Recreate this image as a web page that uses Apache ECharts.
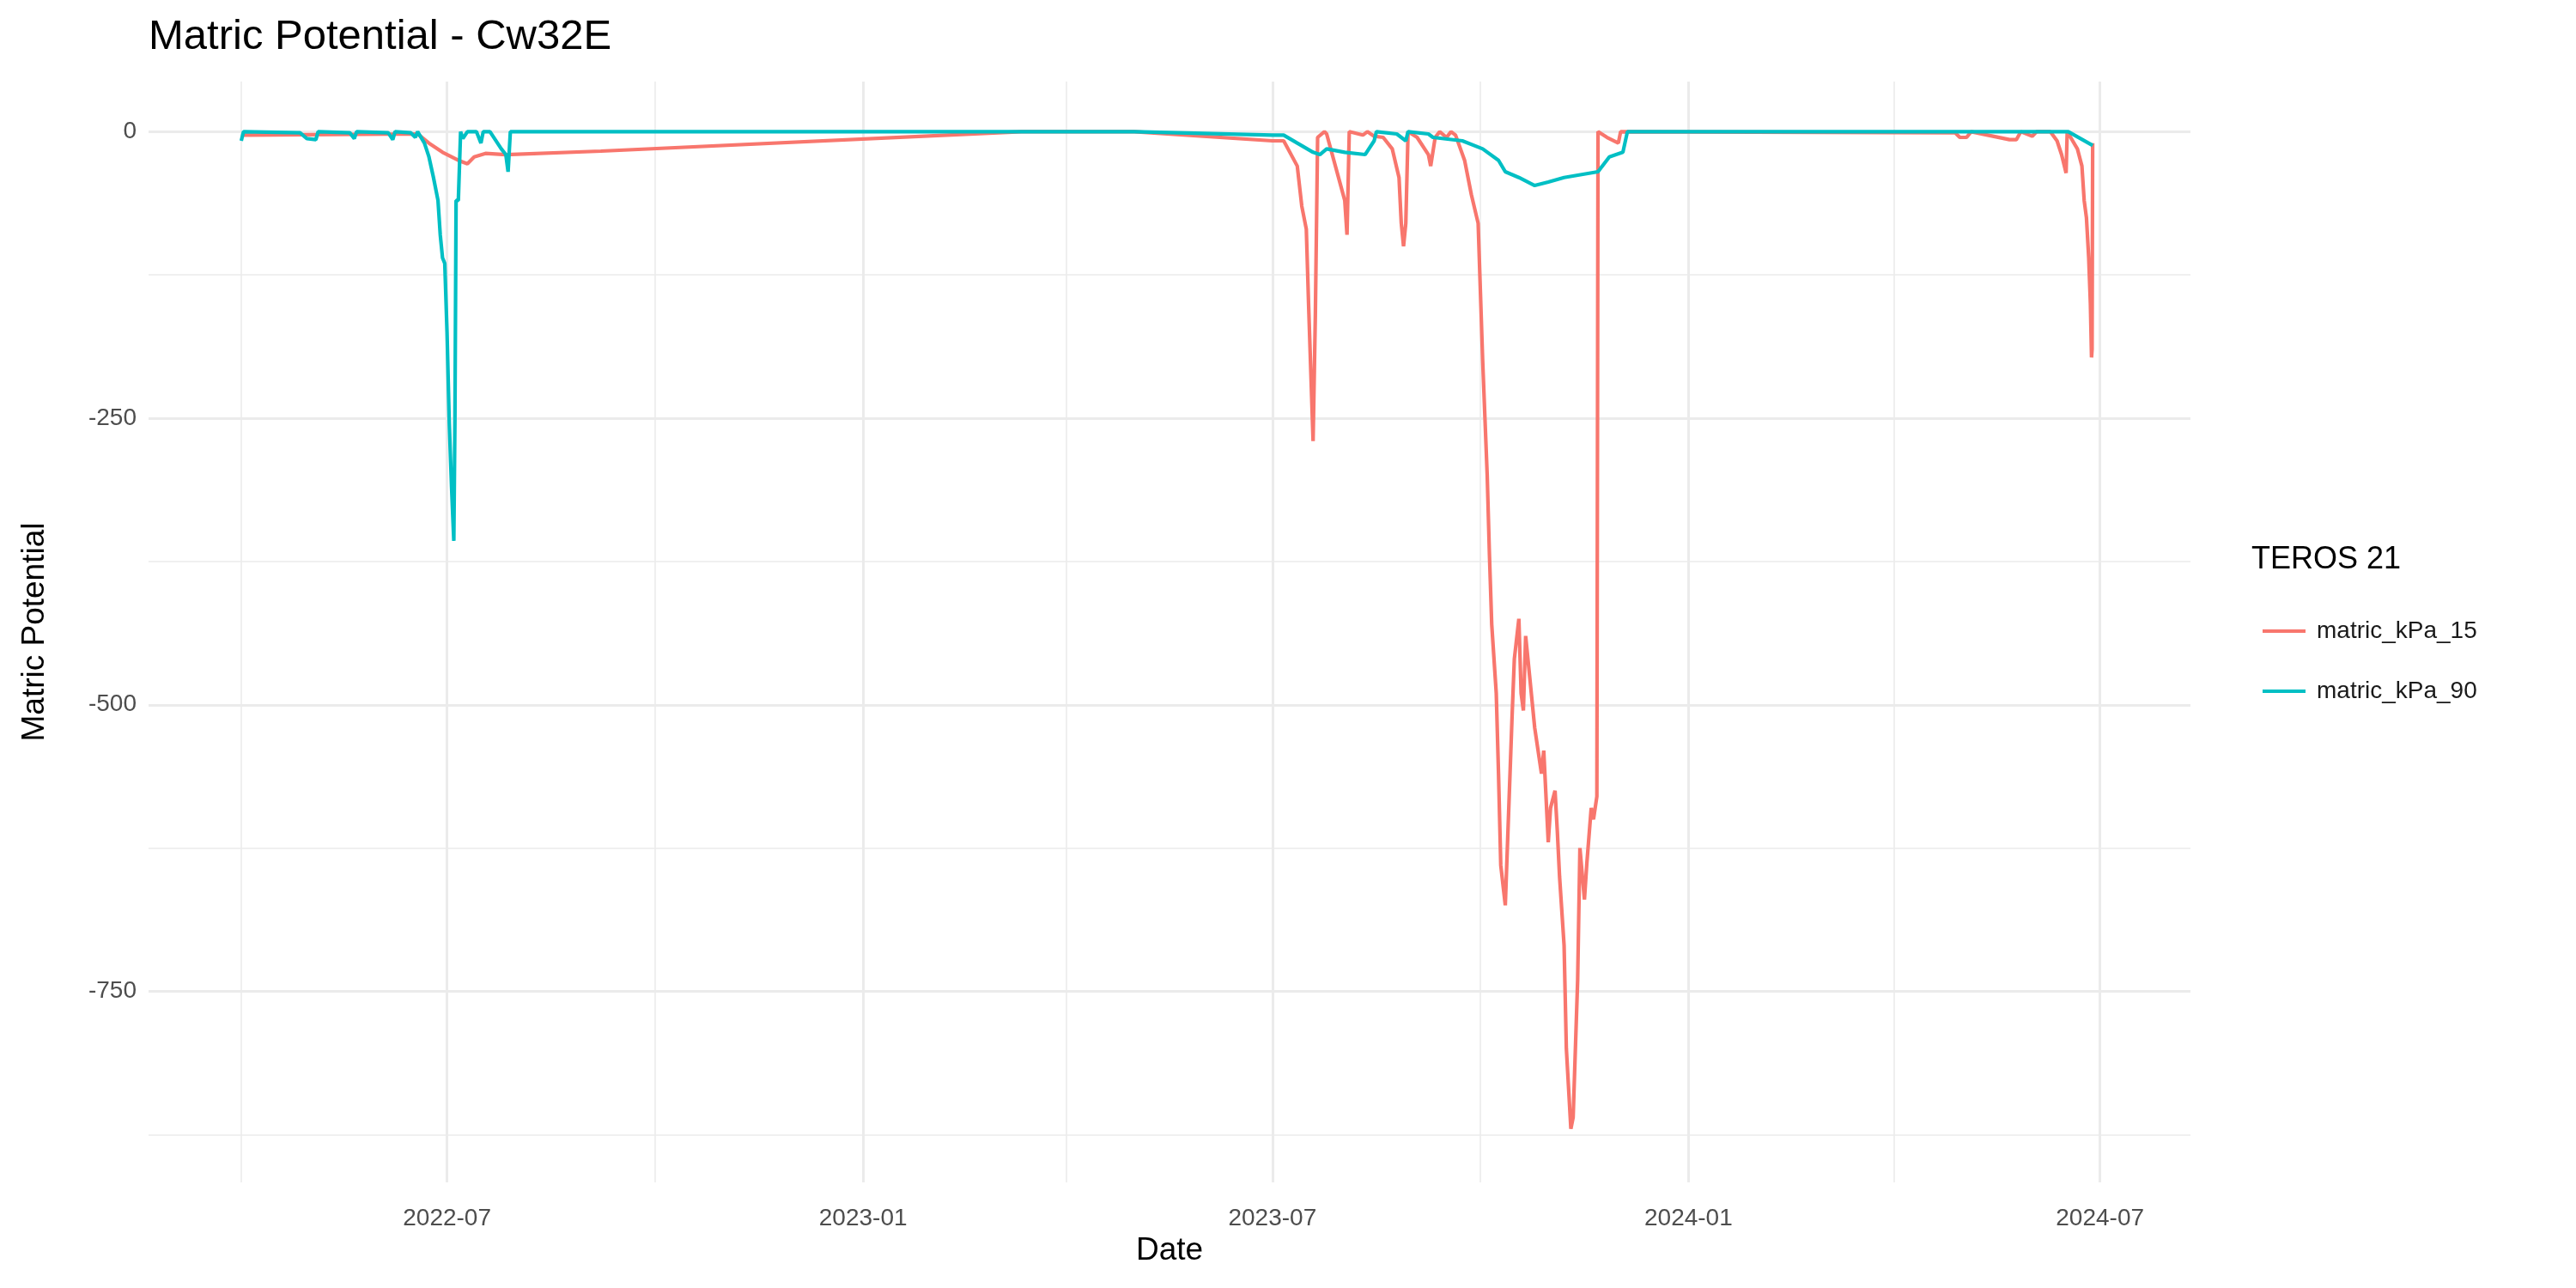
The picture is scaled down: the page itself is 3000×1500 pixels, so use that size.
<!DOCTYPE html>
<html><head><meta charset="utf-8">
<script src="https://cdn.jsdelivr.net/npm/echarts@6/dist/echarts.min.js"></script>
<style>html,body{margin:0;padding:0;background:#fff}#c{width:3000px;height:1500px}</style>
</head><body><div id="c"></div>
<script>
const dates15 = ['2022-04-01','2022-06-18','2022-06-23','2022-06-29','2022-07-06','2022-07-10','2022-07-13','2022-07-18','2022-07-27','2022-09-07',
'2023-03-12','2023-05-01','2023-07-01','2023-07-06','2023-07-12','2023-07-14','2023-07-16','2023-07-17','2023-07-18','2023-07-19','2023-07-20','2023-07-21','2023-07-24',
'2023-07-25','2023-08-02','2023-08-03','2023-08-04','2023-08-10','2023-08-12','2023-08-15','2023-08-19','2023-08-23','2023-08-26','2023-08-27','2023-08-28','2023-08-29','2023-08-30',
'2023-09-03','2023-09-08','2023-09-09','2023-09-11','2023-09-13','2023-09-16','2023-09-18','2023-09-20','2023-09-24','2023-09-27','2023-09-30','2023-10-01','2023-10-02','2023-10-04','2023-10-05','2023-10-06',
'2023-10-08','2023-10-09','2023-10-10','2023-10-12','2023-10-13','2023-10-15','2023-10-16','2023-10-18','2023-10-19','2023-10-20','2023-10-21','2023-10-23','2023-10-25','2023-10-28','2023-10-29',
'2023-10-31','2023-11-01','2023-11-03','2023-11-04','2023-11-05','2023-11-07','2023-11-08','2023-11-10','2023-11-11','2023-11-13','2023-11-14','2023-11-16','2023-11-17','2023-11-19','2023-11-20','2023-11-21 12:00',
'2023-11-22','2023-11-26','2023-12-01','2023-12-02','2024-04-28','2024-04-30','2024-05-03','2024-05-05','2024-05-22','2024-05-25','2024-05-27','2024-06-01','2024-06-03',
'2024-06-09','2024-06-12','2024-06-14','2024-06-16','2024-06-16 12:00','2024-06-18','2024-06-21','2024-06-23','2024-06-24','2024-06-25','2024-06-26','2024-06-26 18:00','2024-06-27 06:00','2024-06-27 12:00','2024-06-27 18:00'];
const vals15 = [-3,-2,-10,-18,-25,-28,-22,-19,-20,-17,
0,0,-8,-8,-30,-65,-85,-150,-210,-270,-160,-5,0,
-2,-60,-90,0,-3,0,-4,-5,-15,-40,-80,-100,-80,0,
-5,-20,-30,-5,0,-5,0,-3,-25,-55,-80,-140,-200,-300,-370,-430,
-490,-560,-640,-675,-620,-510,-460,-425,-490,-505,-440,-480,-520,-560,-540,
-620,-590,-575,-610,-650,-710,-800,-870,-860,-740,-625,-670,-640,-590,-600,-580,
0,-5,-10,0,-1,-5,-5,0,-7,-7,0,-4,0,
0,-8,-20,-36,0,-5,-15,-30,-60,-75,-110,-150,-197,-190,-10];

const dates90 = ['2022-04-01','2022-04-02','2022-04-27','2022-04-30','2022-05-04','2022-05-05','2022-05-19','2022-05-21','2022-05-22','2022-06-05','2022-06-07','2022-06-08',
'2022-06-15','2022-06-17','2022-06-18','2022-06-21','2022-06-23','2022-06-25','2022-06-27','2022-06-28','2022-06-29','2022-06-30','2022-07-01','2022-07-02','2022-07-03',
'2022-07-04','2022-07-04 12:00','2022-07-05','2022-07-06','2022-07-07','2022-07-08','2022-07-10','2022-07-14','2022-07-16','2022-07-17','2022-07-20','2022-07-25','2022-07-27','2022-07-28','2022-07-29',
'2023-05-01','2023-07-01','2023-07-06','2023-07-12','2023-07-19','2023-07-22','2023-07-25','2023-08-02','2023-08-11','2023-08-15','2023-08-16','2023-08-25','2023-08-29','2023-08-30',
'2023-09-08','2023-09-10','2023-09-23','2023-10-02','2023-10-09','2023-10-12','2023-10-18','2023-10-25','2023-10-31','2023-11-07','2023-11-22','2023-11-27','2023-12-03','2023-12-05',
'2024-06-17','2024-06-27 18:00'];
const vals90 = [-8,0,-1,-6,-7,0,-1,-6,0,-1,-7,0,
-1,-5,0,-10,-22,-40,-60,-90,-110,-115,-175,-255,-310,
-357,-250,-60,-60,0,-6,0,0,-10,0,0,-15,-20,-35,0,
0,-3,-3,-10,-18,-20,-15,-18,-20,-8,0,-2,-8,0,
-2,-5,-8,-15,-25,-35,-40,-47,-44,-40,-35,-22,-18,0,
0,-12];

const yMajor = [0,-250,-500,-750];
const yMinor = [-125,-375,-625,-875];
const xMajor = ['2022-07-01','2023-01-01','2023-07-01','2024-01-01','2024-07-01'];
const xMinor = ['2022-04-01','2022-10-01','2023-04-01','2023-10-01','2024-04-01'];
const seriesNames = ['matric_kPa_15','matric_kPa_90'];

const FONT = 'Liberation Sans';
const grid = '#EBEBEB';
const lineData = [];
yMajor.forEach(v => lineData.push({yAxis: v, lineStyle:{color:grid,width:3,type:'solid'},
  label:{show:true,position:'start',formatter:String(v),color:'#4D4D4D',fontSize:28,fontFamily:FONT,distance:14}}));
yMinor.forEach(v => lineData.push({yAxis: v, lineStyle:{color:grid,width:1.6,type:'solid'},label:{show:false}}));
xMajor.forEach(d => lineData.push({xAxis: d, lineStyle:{color:grid,width:3,type:'solid'},
  label:{show:true,position:'start',formatter:d.slice(0,7),color:'#4D4D4D',fontSize:28,fontFamily:FONT,distance:28}}));
xMinor.forEach(d => lineData.push({xAxis: d, lineStyle:{color:grid,width:1.6,type:'solid'},label:{show:false}}));

const chart = echarts.init(document.getElementById('c'));
chart.setOption({
  backgroundColor:'#fff',
  animation:false,
  title:{text:'Matric Potential - Cw32E',left:168,top:14,textStyle:{fontFamily:FONT,fontSize:49,fontWeight:'normal',color:'#000'}},
  grid:{left:173,right:449,top:95,bottom:123},
  xAxis:{type:'time',min:'2022-02-19',max:'2024-08-10',axisLine:{show:false},axisTick:{show:false},axisLabel:{show:false},splitLine:{show:false}},
  yAxis:{type:'value',min:-916.7,max:43.7,axisLine:{show:false},axisTick:{show:false},axisLabel:{show:false},splitLine:{show:false}},
  legend:{orient:'vertical',left:2630,top:716,itemWidth:50,itemHeight:4,icon:'rect',itemGap:42,
    textStyle:{fontFamily:FONT,fontSize:28,color:'#1A1A1A',padding:[0,0,0,8]},data:seriesNames},
  graphic:[
    {type:'text',left:2622,top:634,style:{text:'TEROS 21',font:'36px "Liberation Sans"',fill:'#000'}},
    {type:'text',x:1362,y:1438,style:{text:'Date',font:'37px "Liberation Sans"',fill:'#000',align:'center'}},
    {type:'text',x:22,y:736,rotation:Math.PI/2,style:{text:'Matric Potential',font:'37px "Liberation Sans"',fill:'#000',align:'center',verticalAlign:'top'}}
  ],
  series:[
    {name:seriesNames[0],type:'line',showSymbol:false,symbol:'none',color:'#F8766D',lineStyle:{width:4.2,color:'#F8766D'},
     data:dates15.map((d,i)=>[d,vals15[i]]),z:3,
     markLine:{silent:true,symbol:'none',z:1,data:lineData}},
    {name:seriesNames[1],type:'line',showSymbol:false,symbol:'none',color:'#00BFC4',lineStyle:{width:4.2,color:'#00BFC4'},
     data:dates90.map((d,i)=>[d,vals90[i]]),z:4}
  ]
});
</script></body></html>
